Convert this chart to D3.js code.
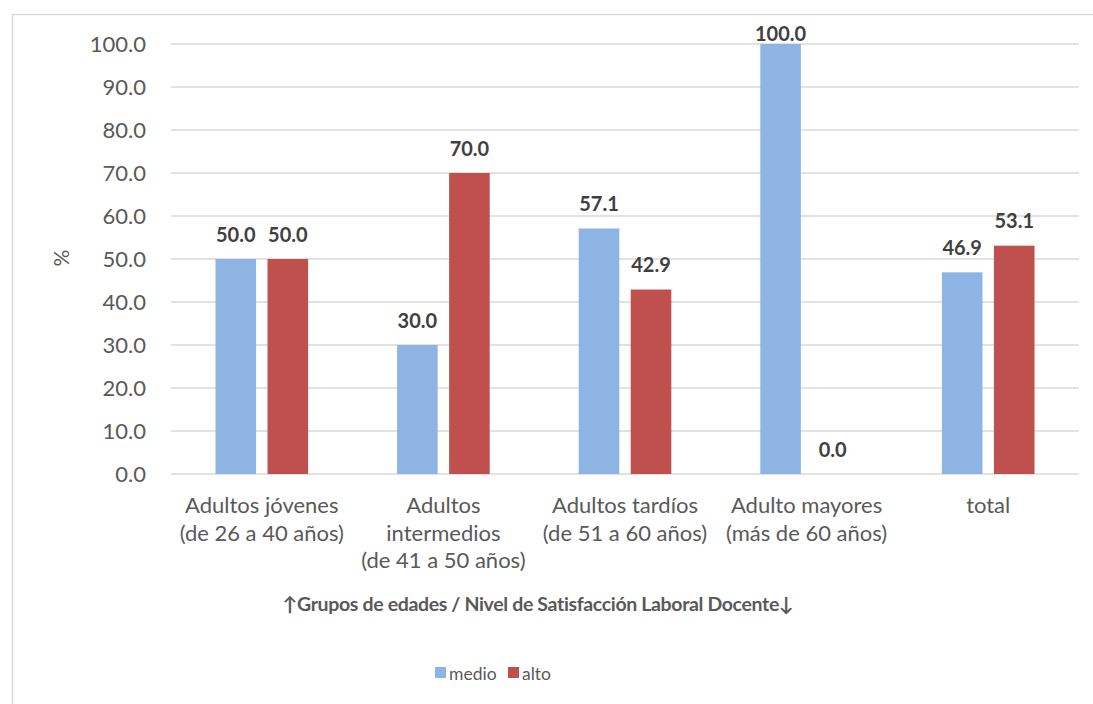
<!DOCTYPE html>
<html>
<head>
<meta charset="utf-8">
<script src="https://cdn.jsdelivr.net/npm/d3@7"></script>
<style>
  html, body { margin: 0; padding: 0; background: #fff; }
  svg { display: block; }
</style>
</head>
<body>
<svg id="chart" width="1093" height="704"></svg>
<script>
// Age groups (x categories) and the lines each label wraps onto
const categories = ["Adultos jóvenes (de 26 a 40 años)", "Adultos intermedios (de 41 a 50 años)", "Adultos tardíos (de 51 a 60 años)", "Adulto mayores (más de 60 años)", "total"];
const categoryLines = [
  ["Adultos jóvenes", "(de 26 a 40 años)"],
  ["Adultos", "intermedios", "(de 41 a 50 años)"],
  ["Adultos tardíos", "(de 51 a 60 años)"],
  ["Adulto mayores", "(más de 60 años)"],
  ["total"]
];
// Satisfaction levels (series)
const seriesNames = ["medio", "alto"];
const medio = [50.0, 30.0, 57.1, 100.0, 46.9];
const alto = [50.0, 70.0, 42.9, 0.0, 53.1];
const yTicks = [0, 10, 20, 30, 40, 50, 60, 70, 80, 90, 100];
const colors = { medio: "#8EB4E3", alto: "#C0504D" };

const font = "Lato, 'Open Sans', sans-serif";
const svg = d3.select("#chart");

// Chart frame
svg.append("path")
  .attr("d", "M12.5,1100 V14.5 H1100")
  .attr("fill", "none")
  .attr("stroke", "#D9D9D9")
  .attr("stroke-width", 1.5);

const plot = { left: 171, right: 1079, top: 44, bottom: 474 };

const x0 = d3.scaleBand().domain(categories).range([plot.left, plot.right]);
const bw = x0.bandwidth();
const x1 = d3.scaleBand().domain(seriesNames)
  .range([bw * 0.245, bw * 0.755]).paddingInner(0.22);
const y = d3.scaleLinear().domain([0, 100]).range([plot.bottom, plot.top]);

// Gridlines
svg.append("g")
  .selectAll("line")
  .data(yTicks)
  .join("line")
  .attr("x1", plot.left).attr("x2", plot.right)
  .attr("y1", d => y(d)).attr("y2", d => y(d))
  .attr("stroke", "#D9D9D9")
  .attr("stroke-width", 1.5);

// Y axis tick labels
const yAxis = d3.axisLeft(y).tickValues(yTicks).tickFormat(d3.format(".1f")).tickSize(0).tickPadding(0);
const yg = svg.append("g").attr("transform", `translate(146,0)`).call(yAxis);
yg.select(".domain").remove();
yg.selectAll("text")
  .attr("fill", "#595959")
  .style("font-family", font)
  .style("font-size", "22px")
  .attr("dy", "0.36em");

// Y axis title
svg.append("text")
  .attr("transform", "translate(69,258) rotate(-90)")
  .attr("text-anchor", "middle")
  .attr("fill", "#595959")
  .style("font-family", font)
  .style("font-size", "21px")
  .text("%");

// Bars
const rows = categories.map((c, i) => ({ cat: c, values: [
  { key: "medio", value: medio[i] },
  { key: "alto", value: alto[i] }
]}));

const groups = svg.append("g")
  .selectAll("g")
  .data(rows)
  .join("g")
  .attr("transform", d => `translate(${x0(d.cat)},0)`);

groups.selectAll("rect")
  .data(d => d.values)
  .join("rect")
  .attr("x", d => x1(d.key))
  .attr("width", x1.bandwidth())
  .attr("y", d => y(d.value))
  .attr("height", d => y(0) - y(d.value))
  .attr("fill", d => colors[d.key]);

// Value labels, kept inside the chart frame
groups.selectAll("text.val")
  .data(d => d.values)
  .join("text")
  .attr("class", "val")
  .attr("x", d => x1(d.key) + x1.bandwidth() / 2)
  .attr("y", d => Math.max(y(d.value) - 17.5, 41))
  .attr("text-anchor", "middle")
  .attr("fill", "#404040")
  .style("font-family", font)
  .style("font-size", "20px")
  .style("font-weight", "bold")
  .text(d => d3.format(".1f")(d.value));

// Category labels
const catG = svg.append("g")
  .selectAll("text")
  .data(categories)
  .join("text")
  .attr("x", d => x0(d) + bw / 2)
  .attr("y", 513)
  .attr("text-anchor", "middle")
  .attr("fill", "#595959")
  .style("font-family", font)
  .style("font-size", "22px");
catG.selectAll("tspan")
  .data((d, i) => categoryLines[i])
  .join("tspan")
  .attr("x", function() { return this.parentNode.getAttribute("x"); })
  .attr("dy", (d, i) => i === 0 ? 0 : 27.5)
  .text(d => d);

// Axis title
svg.append("text")
  .attr("x", 538)
  .attr("y", 611)
  .attr("text-anchor", "middle")
  .attr("fill", "#595959")
  .style("font-family", font)
  .style("font-size", "19.5px")
  .style("letter-spacing", "-0.35px")
  .style("font-weight", "bold")
  .text("↑Grupos de edades / Nivel de Satisfacción Laboral Docente↓");

// Legend
const legendItems = [
  { key: "medio", x: 435 },
  { key: "alto", x: 508 }
];
const lg = svg.append("g");
lg.selectAll("rect")
  .data(legendItems)
  .join("rect")
  .attr("x", d => d.x).attr("y", 667)
  .attr("width", 11).attr("height", 11)
  .attr("fill", d => colors[d.key]);
lg.selectAll("text")
  .data(legendItems)
  .join("text")
  .attr("x", d => d.x + 14).attr("y", 680)
  .attr("fill", "#595959")
  .style("font-family", font)
  .style("font-size", "17.5px")
  .text(d => d.key);
</script>
</body>
</html>
